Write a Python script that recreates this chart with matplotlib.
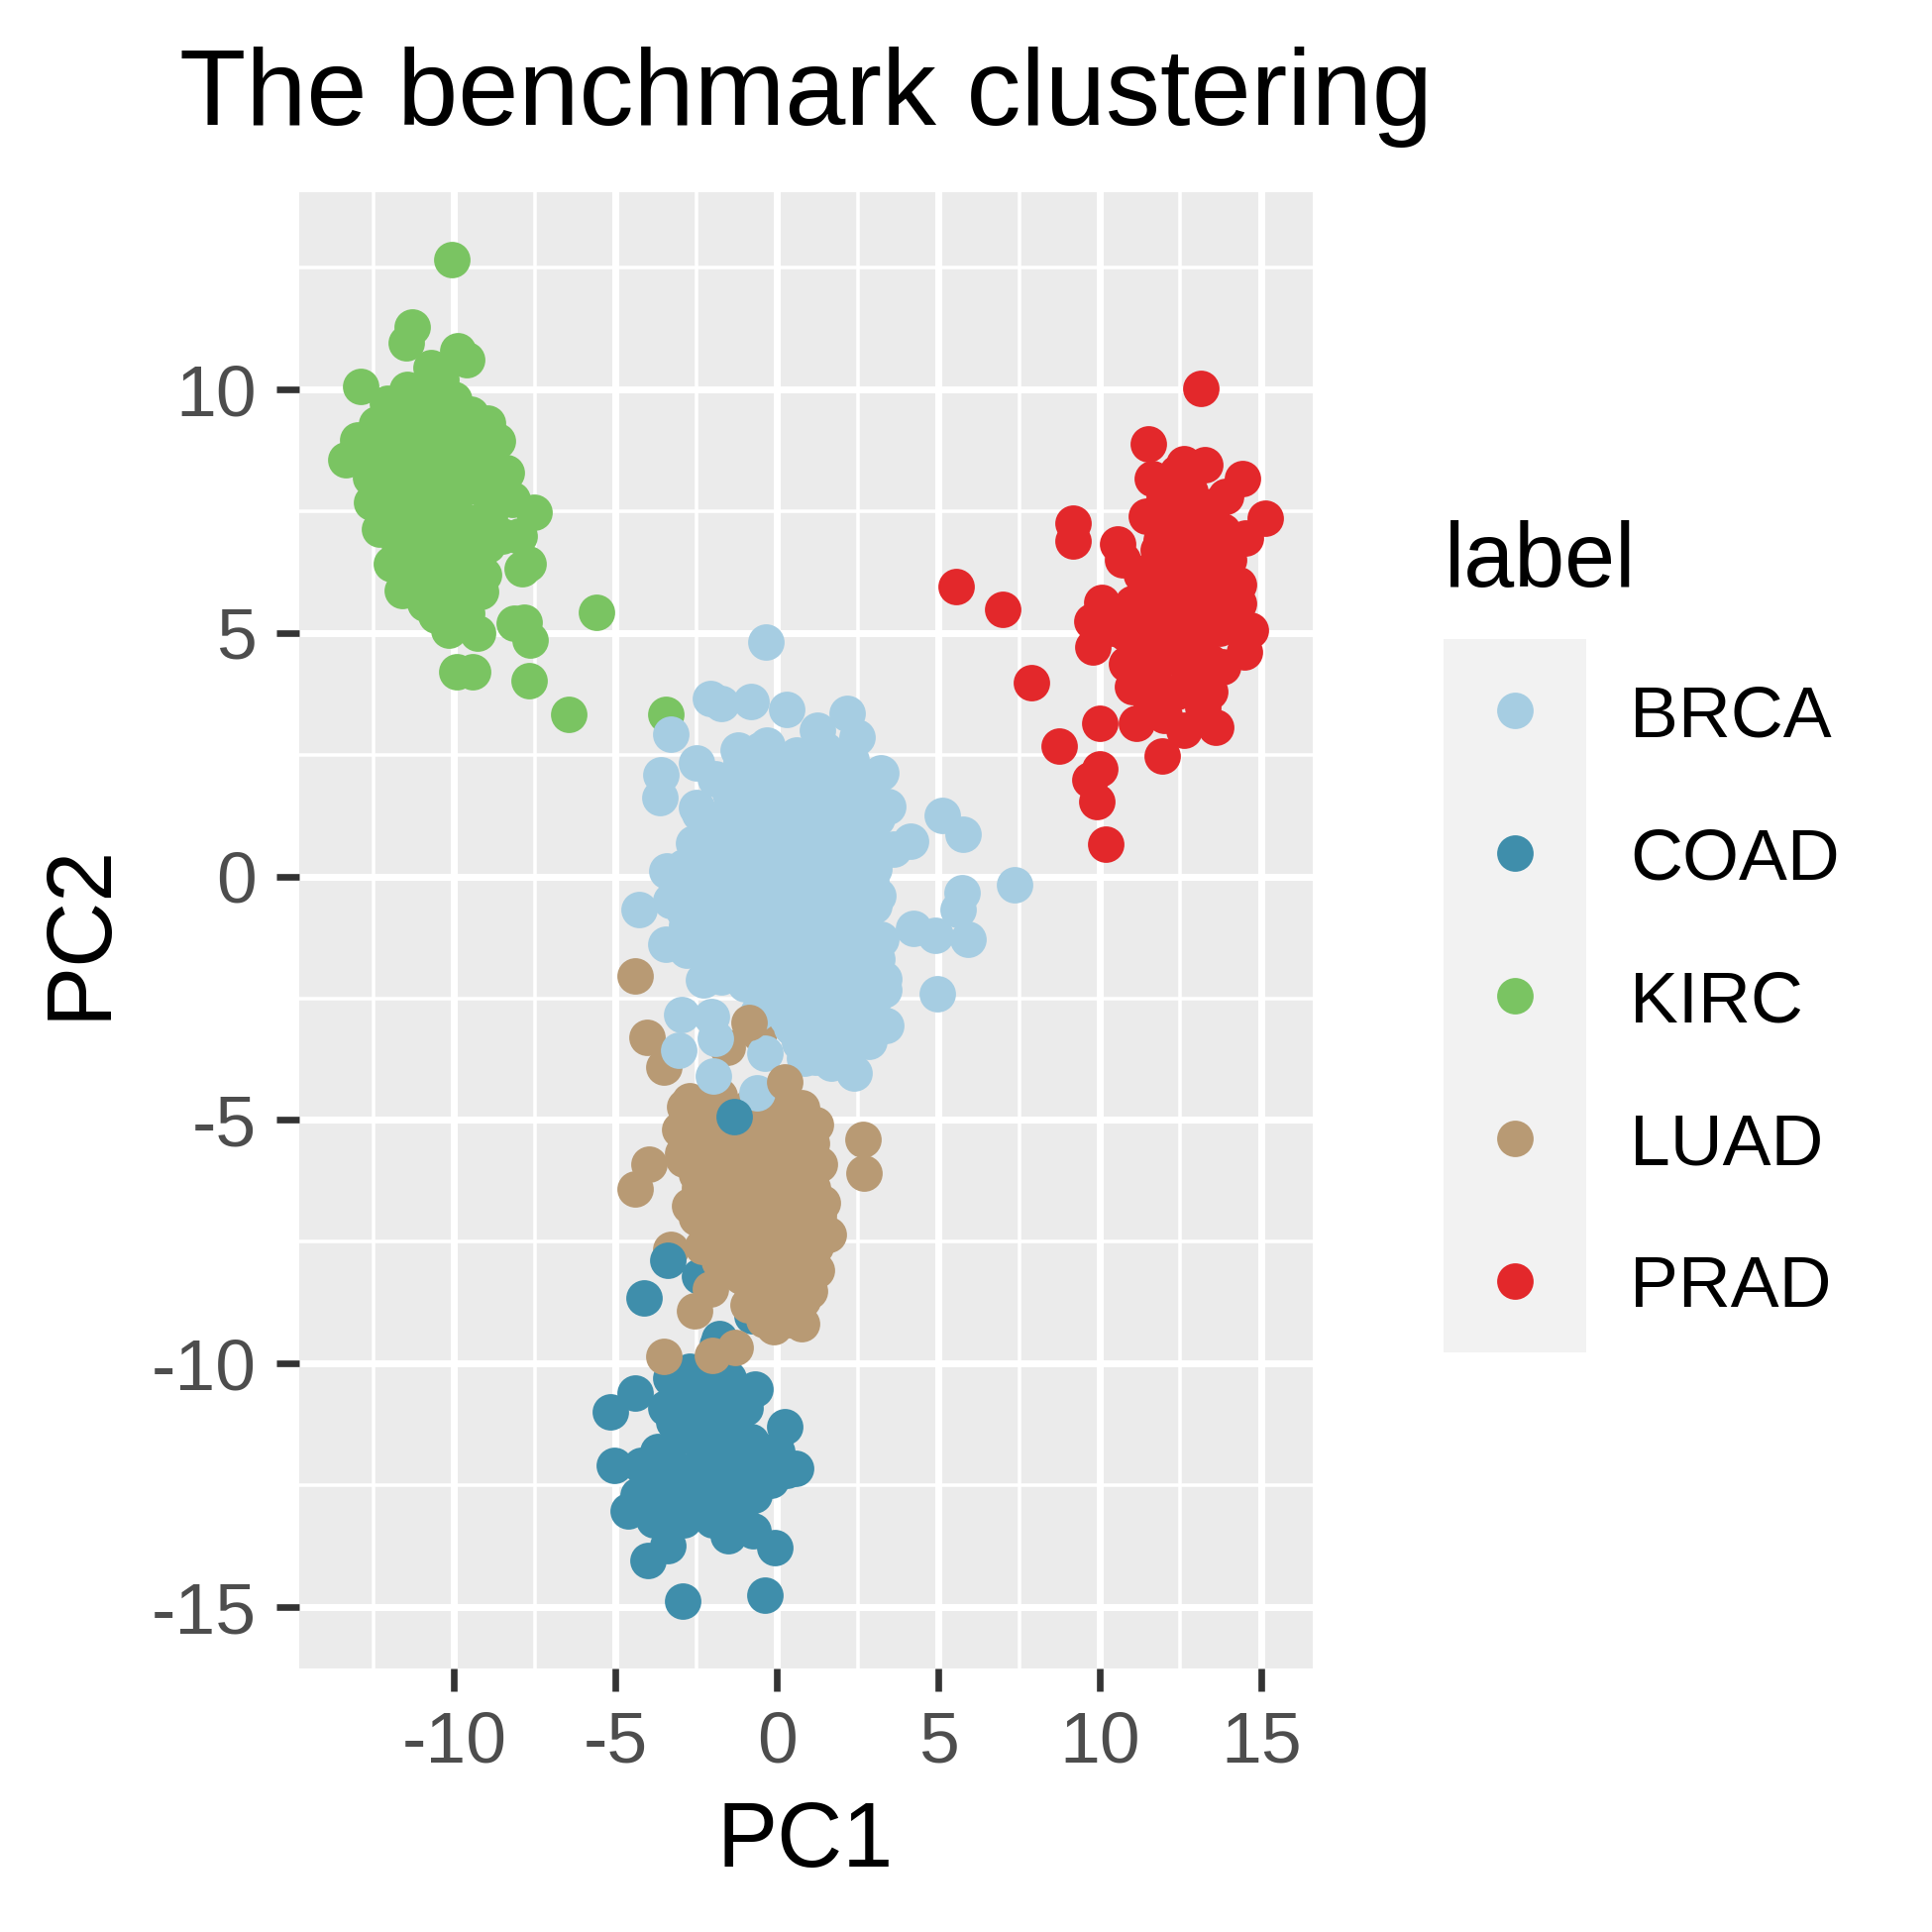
import matplotlib.pyplot as plt

plt.rcParams['font.family'] = ['Liberation Sans', 'DejaVu Sans']

labels = ['BRCA', 'COAD', 'KIRC', 'LUAD', 'PRAD']
colors = ['#A6CDE2', '#3F8EAB', '#7AC462', '#B89A74', '#E3282B']

x_ticks = [-10, -5, 0, 5, 10, 15]
y_ticks = [-15, -10, -5, 0, 5, 10]
x_minor = [-12.5, -7.5, -2.5, 2.5, 7.5, 12.5]
y_minor = [-12.5, -7.5, -2.5, 2.5, 7.5, 12.5]

# KIRC samples
kirc_pc1 = [-10.07, -11.29, -11.50, -9.61, -9.90, -10.72, -12.91, -12.06, -11.44, -13.37,
            -13.00, -8.67, -8.97, -9.90, -8.82, -8.20, -7.54, -7.71, -7.90, -8.97,
            -12.57, -12.31, -11.96, -11.60, -10.57, -10.16, -9.28, -9.18, -8.15, -7.64,
            -7.84, -9.92, -9.44, -7.67, -5.60, -6.44, -3.45,
            -11.0, -10.3, -10.6, -11.6, -12.2, -11.4, -10.5, -9.7, -9.3, -10.0,
            -10.9, -11.8, -12.0, -11.3, -10.4, -9.6, -8.9, -9.8, -10.7, -11.2,
            -10.1, -9.6, -10.9, -9.1, -8.5, -9.2, -11.7, -12.6, -10.2, -9.0,
            -10.4, -11.1, -12.4, -11.7, -8.4, -8.0, -9.5,
            -11.2, -10.0, -12.0, -11.0, -10.1, -9.3, -12.8, -11.8, -10.9, -9.9,
            -9.1, -12.4, -11.5, -10.6, -9.7, -8.9, -12.0, -11.0, -10.1, -9.2,
            -11.5, -10.5, -9.6, -10.5, -9.9]
kirc_pc2 = [12.67, 11.29, 10.95, 10.62, 10.80, 10.44, 10.06, 9.72, 10.00, 8.55,
            8.96, 8.94, 9.32, 9.59, 8.23, 7.75, 7.48, 6.43, 6.32, 6.80,
            7.68, 7.14, 6.43, 5.88, 5.37, 5.06, 5.00, 5.85, 5.20, 4.86,
            5.23, 4.21, 4.21, 4.02, 5.43, 3.33, 3.32,
            9.5, 9.8, 9.0, 9.1, 8.6, 8.3, 8.4, 8.8, 8.0, 7.6,
            7.7, 7.6, 8.0, 7.0, 6.9, 7.2, 7.4, 6.3, 6.2, 6.0,
            5.7, 5.4, 5.6, 6.2, 7.0, 6.7, 6.8, 8.2, 8.3, 9.0,
            10.2, 8.8, 9.3, 9.6, 8.3, 7.0, 9.5,
            9.8, 9.8, 9.2, 9.2, 9.2, 9.2, 8.6, 8.6, 8.6, 8.6,
            8.6, 8.0, 8.0, 8.0, 8.0, 8.0, 7.3, 7.3, 7.3, 7.3,
            6.6, 6.6, 6.6, 6.0, 5.9]

# PRAD samples
prad_pc1 = [13.13, 11.52, 11.62, 12.62, 13.24, 14.42, 15.13, 14.52, 11.44, 10.54,
            9.18, 9.16, 5.56, 6.98, 10.06, 9.77, 9.80, 7.87, 14.67, 14.47,
            14.31, 10.83, 13.18, 13.59, 10.00, 11.13, 11.93, 8.75, 10.00, 9.70,
            9.92, 10.18,
            12.0, 12.8, 13.5, 12.3, 13.0, 13.8, 11.8, 12.6, 13.4, 14.0,
            11.3, 12.1, 12.9, 13.6, 11.0, 11.7, 12.5, 13.3, 14.0, 10.8,
            11.4, 12.2, 13.0, 13.8, 11.6, 12.4, 12.9, 11.0, 12.0, 12.6,
            11.8, 13.9, 12.4, 13.7, 10.7, 14.3,
            12.4, 13.2, 11.9, 12.7, 13.5, 11.6, 12.4, 13.2, 13.9, 11.4,
            12.2, 13.0, 10.4, 11.2, 12.0, 12.9, 13.7, 11.8, 12.6, 13.4,
            11.6, 13.4]
prad_pc2 = [10.03, 8.89, 8.18, 8.48, 8.45, 8.18, 7.36, 6.95, 7.39, 6.82,
            7.26, 6.88, 5.95, 5.49, 5.63, 5.24, 4.71, 3.99, 5.05, 4.61,
            6.00, 4.37, 3.48, 3.07, 3.14, 3.14, 2.48, 2.67, 2.22, 1.99,
            1.54, 0.67,
            7.8, 7.9, 7.6, 7.2, 7.0, 7.1, 6.7, 6.5, 6.4, 6.5,
            6.2, 6.0, 5.8, 5.7, 5.6, 5.3, 5.2, 5.1, 5.3, 5.0,
            4.7, 4.6, 4.5, 4.3, 4.0, 3.8, 3.9, 3.9, 3.3, 3.0,
            7.5, 7.8, 8.3, 6.0, 6.5, 5.6,
            7.5, 7.5, 6.9, 6.9, 6.9, 6.3, 6.3, 6.3, 6.3, 5.7,
            5.7, 5.7, 5.1, 5.1, 5.1, 5.1, 5.1, 4.4, 4.4, 4.4,
            3.5, 3.8]

# BRCA samples
brca_pc1 = [-0.33, -2.07, -1.71, -0.79, 0.29, 2.16, 2.49, -3.30, 1.26, -2.48,
            -3.61, -3.63, -0.53, -1.10, 3.21, 3.42, 4.14, 5.11, 5.78, -2.48,
            -2.58, -3.40, -4.27, -3.45, -2.79, -2.27, -1.71, 7.37, 5.73, 5.62,
            4.24, 4.91, 5.93, 4.96, 3.32, 3.37, 2.39, 1.67, 0.85, -2.94,
            -2.02, -3.04, -1.97, -0.38, -0.63, -1.92, 2.85, 3.21, 3.11, 3.62,
            3.01,
            -1.2, -0.3, 0.6, 1.5, 2.3,
            -1.9, -1.0, 0.1, 0.9, 1.9, 2.8,
            -2.4, -1.4, -0.5, 0.4, 1.3, 2.2, 3.1,
            -1.8, -0.8, 0.1, 1.0, 1.9, 2.8,
            -2.9, -2.0, -1.1, -0.2, 0.7, 1.6, 2.5,
            -3.3, -2.4, -1.5, -0.6, 0.3, 1.2, 2.1, 3.0,
            -2.8, -1.9, -1.0, -0.1, 0.8, 1.7, 2.6,
            -2.3, -1.4, -0.5, 0.4, 1.3, 2.2, 3.1,
            -1.0, -0.1, 0.8, 1.7, 2.6, 3.3,
            -0.6, 0.3, 1.2, 2.1, 2.9,
            0.7, 1.5, 2.3,
            -0.75, 0.15, 1.05, 1.95,
            -1.45, -0.45, 0.5, 1.4, 2.35,
            -2.0, -1.0, -0.05, 0.85, 1.75, 2.65,
            -2.4, -1.45, -0.55, 0.35, 1.25, 2.15, 3.0,
            -2.7, -1.6, -0.65, 0.25, 1.15, 2.05, 2.9,
            -2.9, -2.0, -1.05, -0.15, 0.75, 1.65, 2.5,
            -2.4, -1.45, -0.55, 0.35, 1.25, 2.15, 3.0,
            -0.9, 0.0, 0.9, 1.75, 2.6,
            -0.3, 0.55, 1.45, 2.35, 3.0,
            0.45, 1.3, 2.1,
            1.2, 2.0]
brca_pc2 = [4.81, 3.65, 3.55, 3.59, 3.43, 3.35, 2.87, 2.92, 3.00, 2.34,
            2.09, 1.63, 2.60, 2.36, 2.12, 1.44, 0.73, 1.26, 0.86, 1.42,
            0.69, 0.12, -0.67, -1.38, -1.52, -2.13, -2.06, -0.16, -0.33, -0.67,
            -1.07, -1.21, -1.28, -2.40, -2.33, -3.05, -4.03, -3.83, -3.73, -2.84,
            -2.88, -3.56, -4.10, -3.63, -4.44, -3.32, -3.39, -1.28, -0.39, 0.56,
            0.15,
            2.6, 2.7, 2.5, 2.6, 2.4,
            2.0, 1.9, 2.1, 1.9, 2.0, 1.8,
            1.3, 1.5, 1.4, 1.3, 1.5, 1.4, 1.2,
            0.8, 0.7, 0.9, 0.8, 0.7, 0.9,
            0.2, 0.3, 0.1, 0.2, 0.3, 0.1, 0.2,
            -0.5, -0.4, -0.3, -0.5, -0.4, -0.3, -0.5, -0.6,
            -1.0, -1.1, -0.9, -1.0, -1.1, -0.9, -1.0,
            -1.6, -1.7, -1.5, -1.6, -1.7, -1.5, -1.7,
            -2.2, -2.3, -2.1, -2.2, -2.3, -2.1,
            -2.8, -2.9, -2.7, -2.8, -2.9,
            -3.4, -3.3, -3.5,
            2.3, 2.3, 2.3, 2.3,
            1.7, 1.7, 1.7, 1.7, 1.7,
            1.1, 1.1, 1.1, 1.1, 1.1, 1.1,
            0.5, 0.5, 0.5, 0.5, 0.5, 0.5, 0.5,
            -0.1, -0.1, -0.1, -0.1, -0.1, -0.1, -0.1,
            -0.7, -0.7, -0.7, -0.7, -0.7, -0.7, -0.7,
            -1.3, -1.3, -1.3, -1.3, -1.3, -1.3, -1.3,
            -1.9, -1.9, -1.9, -1.9, -1.9,
            -2.5, -2.5, -2.5, -2.5, -2.5,
            -3.1, -3.1, -3.1,
            -3.7, -3.7]

# LUAD samples (drawn below BRCA)
luad_pc1 = [-2.07, -1.54, -0.57,
            -4.38, -4.03, -3.49, -2.87, 0.76, 1.07, 2.66, 2.71, -3.97, -4.38,
            -2.92, -2.72, 0.56, 1.27, 1.58, -3.28, 1.22, -2.05, -2.56, -0.77,
            0.76, -0.11, -3.49, -2.00, -1.28, 0.75,
            -2.7, -1.8, -0.8, 0.2,
            -3.0, -2.1, -1.2, -0.3, 0.6, 1.2,
            -2.9, -2.0, -1.1, -0.2, 0.7, 1.3,
            -2.4, -1.5, -0.6, 0.3, 1.1,
            -2.5, -1.7, -0.8, 0.1, 0.9,
            -2.3, -1.4, -0.5, 0.4, 1.2,
            -1.1, -0.2, 0.6,
            -0.9, 0.0, 0.8,
            -2.3, -1.4, -0.5, 0.4,
            -2.5, -1.6, -0.7, 0.2, 0.95,
            -2.5, -1.6, -0.7, 0.2, 1.0,
            -2.0, -1.1, -0.2, 0.7, 1.4,
            -2.0, -1.1, -0.2, 0.7,
            -1.8, -0.9, 0.0, 0.8,
            -0.5, 0.3, 1.0,
            -0.4, 0.4]
luad_pc2 = [-0.53, -3.50, -3.23,
            -2.04, -3.30, -3.91, -4.72, -4.86, -5.47, -5.39, -6.09, -5.91, -6.41,
            -5.68, -6.77, -6.36, -6.97, -7.34, -7.65, -8.09, -8.47, -8.91, -8.47,
            -9.18, -9.25, -9.86, -9.83, -9.66, -4.75,
            -4.6, -4.5, -4.7, -4.6,
            -5.2, -5.3, -5.1, -5.2, -5.3, -5.1,
            -5.8, -5.9, -5.7, -5.9, -5.8, -5.9,
            -6.4, -6.5, -6.3, -6.5, -6.4,
            -7.0, -7.1, -6.9, -7.1, -7.0,
            -7.6, -7.7, -7.5, -7.7, -7.6,
            -8.2, -8.3, -8.1,
            -8.8, -8.9, -8.7,
            -4.9, -4.9, -4.9, -4.9,
            -5.5, -5.5, -5.5, -5.5, -5.5,
            -6.1, -6.1, -6.1, -6.1, -6.1,
            -6.7, -6.7, -6.7, -6.7, -6.7,
            -7.3, -7.3, -7.3, -7.3,
            -7.9, -7.9, -7.9, -7.9,
            -8.5, -8.5, -8.5,
            -9.1, -9.1]

# LUAD samples drawn above BRCA
luad_top_pc1 = [-0.88, 0.25]
luad_top_pc2 = [-2.99, -4.21]

# COAD samples (drawn below LUAD)
coad_pc1 = [-5.15, -4.41, -5.05, -4.61, -4.00, -3.39, -2.93, -0.38, -0.07, -0.73,
            -1.50, 0.23, 0.59, -0.68, -2.72, -3.44,
            -2.21, -0.77, -1.80, -2.40, -1.86,
            -3.3, -2.4, -1.5,
            -2.8, -1.9, -1.0,
            -3.0, -2.6, -1.7, -0.8, 0.0,
            -4.2, -3.3, -2.4, -1.5, -0.6, 0.3,
            -4.3, -3.4, -2.5, -1.6, -0.7,
            -3.8, -2.9, -2.0, -1.1,
            -2.9, -2.0, -1.1,
            -3.2, -2.4, -1.5,
            -3.7, -2.2, -1.3, -0.4,
            -3.8, -2.9, -2.0, -1.1, -0.2,
            -3.9, -3.0, -2.1, -1.2]
coad_pc2 = [-11.00, -10.61, -12.08, -13.03, -14.05, -13.74, -14.88, -14.76, -13.78, -13.44,
            -13.54, -11.30, -12.15, -10.52, -10.15, -10.90,
            -6.97, -9.01, -9.49, -8.20, -9.60,
            -10.3, -10.3, -10.3,
            -10.9, -10.9, -10.9,
            -11.5, -11.5, -11.5, -11.6, -11.8,
            -12.1, -12.1, -12.1, -12.1, -12.1, -12.2,
            -12.7, -12.7, -12.7, -12.7, -12.7,
            -13.2, -13.2, -13.2, -13.2,
            -10.6, -10.6, -10.6,
            -11.2, -11.2, -11.2,
            -11.8, -11.8, -11.8, -11.8,
            -12.4, -12.4, -12.4, -12.4, -12.4,
            -13.0, -13.0, -13.0, -13.0]

# COAD samples drawn above LUAD
coad_top_pc1 = [-1.31, -3.38, -4.13]
coad_top_pc2 = [-4.92, -7.87, -8.66]

W = 1950
fig = plt.figure(figsize=(6.5, 6.5), dpi=300)
ax = fig.add_axes([302 / W, 1 - 1684 / W, (1325 - 302) / W, (1684 - 194) / W])
ax.set_facecolor('#EBEBEB')
for s in ax.spines.values():
    s.set_visible(False)

pt = 78
layers = [
    (kirc_pc1, kirc_pc2, colors[2]),
    (coad_pc1, coad_pc2, colors[1]),
    (luad_pc1, luad_pc2, colors[3]),
    (brca_pc1, brca_pc2, colors[0]),
    (luad_top_pc1, luad_top_pc2, colors[3]),
    (coad_top_pc1, coad_top_pc2, colors[1]),
    (prad_pc1, prad_pc2, colors[4]),
]
for xs, ys, c in layers:
    ax.scatter(xs, ys, s=pt, color=c, linewidths=0, zorder=3)

ax.set_xlim(-14.8, 16.6)
ax.set_ylim(-16.26, 14.05)
ax.set_xticks(x_ticks)
ax.set_yticks(y_ticks)
ax.set_xticks(x_minor, minor=True)
ax.set_yticks(y_minor, minor=True)
ax.set_xticklabels([str(v) for v in x_ticks])
ax.set_yticklabels([str(v) for v in y_ticks])
ax.set_axisbelow(True)
ax.grid(which='major', color='white', linewidth=1.7)
ax.grid(which='minor', color='white', linewidth=0.85)
ax.tick_params(which='major', length=5.5, width=1.6, color='#333333',
               labelcolor='#4D4D4D', labelsize=17.6, pad=4.8)
ax.tick_params(which='minor', length=0)

fig.text(181 / W, 1 - 126 / W, 'The benchmark clustering', fontsize=26.4,
         ha='left', va='baseline', color='black')
fig.text(813 / W, 1 - 1884 / W, 'PC1', fontsize=22, ha='center', va='baseline')
fig.text(105 / W, 1 - 940 / W, 'PC2', fontsize=22, ha='center', va='baseline',
         rotation=90, rotation_mode='anchor')

# legend
lax = fig.add_axes([1457 / W, 1 - 1365 / W, 144 / W, 720 / W])
lax.set_facecolor('#F2F2F2')
lax.set_xlim(0, 1)
lax.set_ylim(0, 5)
lax.set_xticks([])
lax.set_yticks([])
for s in lax.spines.values():
    s.set_visible(False)
for i, (lab, c) in enumerate(zip(labels, colors)):
    lax.scatter([0.5], [4.5 - i], s=pt, color=c, linewidths=0)
    lax.text(1.305, 4.5 - i - 0.184, lab, fontsize=17.6, ha='left', va='baseline',
             clip_on=False)
fig.text(1458 / W, 1 - 592 / W, 'label', fontsize=22, ha='left', va='baseline')

fig.savefig('out.png', dpi=300)
